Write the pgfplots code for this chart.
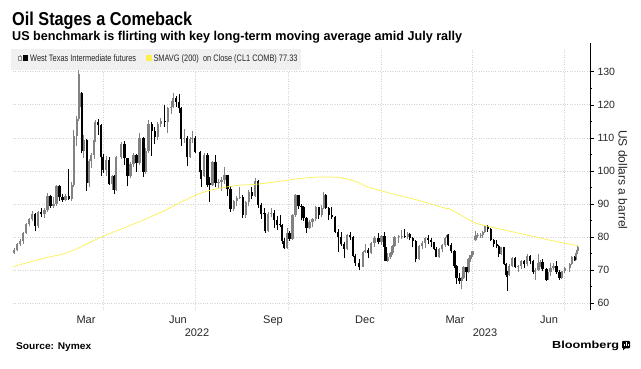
\documentclass[border=0pt]{standalone}
\usepackage{pgfplots}
\pgfplotsset{compat=1.18}
\usepackage{pgfplotstable}
\usepackage{graphicx}
\usepackage{fontspec}
\setmainfont{Liberation Sans}
\definecolor{smaYellow}{RGB}{250,240,80}
\definecolor{legBg}{RGB}{240,240,240}
\definecolor{gridGray}{RGB}{210,210,210}
\definecolor{upGray}{RGB}{130,130,130}

\pgfplotstableread{
d o h l c
1 75.2 76.5 74.8 76.1
4 76.1 78.2 75.6 77.8
7 77.8 79.5 77.2 78.9
10 78.9 81.6 78.0 81.2
13 81.2 84.3 80.8 83.8
16 83.8 85.7 83.2 85.4
19 85.4 87.9 84.8 86.9
22 86.9 87.2 81.7 83.3
25 83.3 87.9 82.8 87.4
28 87.4 88.8 85.9 86.8
31 86.8 88.9 85.7 88.2
34 88.2 93.2 87.6 92.3
37 92.3 92.6 88.8 89.4
40 89.4 92.0 88.9 89.9
43 89.9 95.8 89.5 95.5
46 95.5 95.8 91.0 92.1
49 92.1 93.0 90.5 91.1
52 91.1 93.0 90.8 92.4
55 92.4 100.5 91.2 91.6
58 91.6 96.5 91.0 95.7
60 95.7 112.5 95.2 110.6
63 110.6 116.6 107.5 115.7
65 115.7 130.5 115.0 119.4
66 119.4 129.4 117.5 123.7
68 123.7 124.0 105.3 106.0
70 106.0 110.8 104.0 109.3
73 109.3 109.7 93.9 96.4
75 96.4 103.5 95.0 103.0
77 103.0 105.3 101.0 104.7
80 104.7 112.0 103.6 109.3
81 109.3 115.4 108.8 114.9
84 114.9 115.8 111.0 113.9
87 113.9 114.2 98.4 104.2
89 104.2 105.0 99.3 100.3
92 100.3 104.5 98.4 103.3
95 103.3 104.2 95.7 96.0
98 96.0 98.7 94.2 98.3
100 98.3 98.6 92.9 94.3
102 94.3 104.6 94.0 104.3
107 104.3 108.8 103.6 108.2
110 108.2 108.9 101.7 103.8
113 103.8 104.0 95.3 98.5
116 98.5 102.6 97.8 102.0
119 102.0 105.5 101.1 104.7
122 104.7 105.2 99.8 102.4
125 102.4 111.4 101.9 109.8
129 109.8 110.2 98.2 99.8
131 99.8 107.0 99.0 106.1
134 106.1 115.5 105.5 114.2
137 114.2 114.7 104.6 112.2
140 112.2 113.4 108.0 110.3
143 110.3 114.8 109.3 114.1
146 114.1 116.0 113.2 115.1
150 115.1 119.9 113.4 114.7
153 114.7 119.4 111.4 118.9
156 118.9 121.0 117.3 119.4
158 119.4 123.7 119.0 122.1
161 122.1 122.7 119.3 120.7
164 120.7 123.2 117.6 118.9
166 118.9 119.2 107.5 109.6
169 109.6 112.6 108.5 110.0
172 110.0 110.4 101.5 104.3
175 104.3 110.3 104.0 109.6
177 109.6 112.0 108.5 109.8
180 109.8 110.6 105.3 105.8
185 105.8 106.0 97.4 99.5
186 99.5 100.2 95.1 98.5
189 98.5 105.3 98.0 104.8
192 104.8 105.5 95.1 95.8
194 96.3 98.0 90.6 95.8
197 95.8 103.0 95.3 102.6
200 102.6 104.7 95.0 96.4
203 96.4 97.5 94.4 96.7
206 96.7 98.1 93.9 97.3
209 97.3 101.2 96.0 98.6
212 98.6 98.8 92.4 94.4
215 94.4 95.3 87.6 88.5
218 88.5 91.2 87.8 90.8
221 90.8 92.3 89.5 91.9
224 91.9 95.0 91.5 92.1
227 92.1 92.7 85.7 86.5
230 86.5 91.0 85.8 90.5
233 90.5 94.3 89.4 93.7
236 93.7 95.0 91.5 92.5
239 92.5 97.7 92.0 97.0
242 97.0 97.3 88.9 89.6
245 89.6 90.4 85.5 86.9
248 87.3 88.9 86.4 86.9
249 86.9 87.2 81.2 81.9
252 81.9 87.5 81.5 86.8
255 86.8 88.7 86.0 87.3
258 87.3 88.0 82.8 85.1
261 85.1 86.4 82.1 83.5
264 83.9 86.5 82.9 83.5
266 83.5 83.8 78.0 78.7
268 78.7 79.8 76.3 76.7
271 76.7 82.6 76.4 81.2
273 81.2 81.9 78.8 79.5
276 79.5 87.0 79.0 86.5
279 86.5 93.0 86.0 92.6
282 92.6 92.8 88.4 89.4
285 89.4 89.9 85.0 89.1
287 89.1 89.4 84.8 85.6
290 85.6 86.0 81.3 82.8
293 82.8 85.2 82.5 84.5
296 84.5 85.8 83.0 85.3
299 85.3 89.5 84.9 89.1
302 89.1 89.2 85.5 86.5
305 86.5 89.7 86.0 88.9
307 88.9 93.7 88.5 92.6
309 92.6 93.0 88.5 88.9
312 88.9 89.2 85.0 86.5
315 86.5 89.2 85.3 85.9
318 85.9 86.2 81.3 81.6
321 81.6 82.3 75.3 80.0
324 80.0 81.5 77.3 77.9
327 77.9 78.6 73.6 76.3
330 76.3 81.0 76.0 80.6
333 80.6 81.5 79.2 80.0
336 80.0 80.2 73.8 74.3
338 74.3 74.7 71.2 72.0
342 72.0 73.4 70.1 71.0
346 71.0 75.8 70.8 75.4
348 75.4 77.8 75.0 76.1
351 76.1 76.5 73.6 75.2
354 75.2 78.6 74.8 78.3
357 78.3 80.4 77.0 79.6
361 79.6 81.2 77.8 78.4
364 78.4 80.5 77.7 80.3
367 80.3 81.5 76.2 76.9
368 76.9 77.4 72.6 72.8
370 72.8 75.0 72.4 73.8
373 73.8 75.5 73.2 75.1
375 75.1 77.6 74.6 77.4
377 77.4 80.2 77.0 79.9
381 79.9 80.6 78.3 80.2
384 80.2 82.0 79.4 80.3
387 80.3 82.3 79.8 80.1
390 80.1 81.5 79.5 81.0
392 81.0 81.3 79.2 79.7
395 79.7 80.0 76.8 78.9
398 78.9 79.0 72.3 73.4
401 73.4 77.6 73.0 77.1
404 77.1 78.9 76.4 78.1
407 78.1 80.0 76.7 79.7
410 79.7 80.6 77.8 79.1
413 79.1 79.6 77.0 78.5
416 78.5 78.6 75.9 76.3
418 76.3 76.8 73.8 73.9
421 73.9 76.6 73.6 76.3
424 76.3 78.0 75.5 77.7
427 77.7 80.1 77.0 79.7
429 79.7 81.0 79.0 80.5
430 80.5 80.9 77.2 77.6
433 77.6 78.2 75.1 75.7
436 75.7 76.0 70.6 71.3
438 71.3 71.6 65.7 67.6
441 67.6 69.0 65.6 66.7
443 66.7 68.0 64.1 67.6
445 67.6 71.3 67.3 70.9
448 70.9 71.0 66.8 69.3
450 69.3 73.6 69.0 73.2
452 73.2 74.6 72.5 74.4
454 74.4 75.8 74.0 75.7
457 79.0 81.8 78.9 80.4
459 80.4 81.3 79.8 80.6
462 80.6 81.2 79.6 80.7
464 80.7 81.8 79.8 81.5
466 81.5 83.6 81.1 83.3
469 83.3 83.5 81.6 82.5
472 82.5 82.7 78.8 79.2
475 79.2 79.5 76.9 77.9
478 77.9 79.1 76.6 77.1
480 77.1 77.5 73.8 74.8
482 74.8 77.0 74.5 76.8
485 76.8 77.0 71.4 71.7
487 71.7 72.1 67.8 68.6
488 69.0 69.8 63.6 68.6
490 68.6 71.8 68.3 71.3
493 71.3 74.0 70.8 73.7
496 73.7 73.9 70.6 70.9
499 70.9 71.6 69.4 71.1
502 71.1 73.1 70.4 72.8
505 72.8 73.0 70.6 71.7
508 71.7 74.7 71.3 74.3
511 74.3 74.6 71.7 72.7
514 72.7 73.0 68.8 69.5
516 69.5 70.5 67.0 70.1
519 70.1 74.7 69.8 72.2
521 72.2 73.1 70.8 72.5
523 72.5 73.2 69.6 70.2
527 70.2 70.5 66.8 67.1
528 67.1 69.6 66.9 69.4
531 69.4 72.0 68.3 70.6
534 70.6 72.2 70.0 71.2
537 71.2 72.8 68.9 69.5
540 69.5 70.0 67.1 67.7
542 67.7 69.8 67.3 69.6
545 69.6 71.0 69.0 70.6
550 70.6 72.0 69.5 71.8
552 71.8 74.1 71.4 73.9
555 73.9 74.2 72.6 73.0
556 73.0 75.0 72.8 74.8
557 74.8 76.0 74.5 75.8
558 75.8 77.3 75.5 76.9
}\wti

\pgfplotstableread{
d v
0 71.0
30 73.5
56 75.5
88 80.1
113 83.1
145 87.3
167 90.7
190 93.7
219 95.5
239 95.9
265 96.9
284 97.7
300 98.1
316 98.1
326 97.8
340 96.6
350 95.2
373 93.2
399 91.2
427 88.7
432 88.4
454 84.6
464 83.6
493 81.6
526 79.3
558 77.33
}\sma

\pgfplotsset{candle/.style={draw=none, mark=none, forget plot,
  error bars/y dir=plus, error bars/y explicit, error bars/error mark=none}}

\begin{document}
\begin{tikzpicture}
\path[use as bounding box] (0pt,0pt) rectangle (641pt,369pt);
\begin{axis}[
  at={(13pt,59.4pt)}, anchor=south west,
  width=577pt, height=261pt, scale only axis,
  xmin=0, xmax=570, ymin=58, ymax=137,
  axis line style={draw=none},
  xtick={89,180,272,364,454,545}, xticklabels={},
  x tick style={draw=none},
  ytick={60,70,...,130}, minor ytick={65,75,...,125},
  ytick pos=right, yticklabel pos=right, tick align=outside,
  major tick length=4pt, minor tick length=2.5pt,
  y tick style={black, line width=0.5pt},
  xmajorgrids, ymajorgrids,
  grid style={gridGray, dotted, line width=0.6pt},
  yticklabel style={font=\fontsize{10.5}{12}\selectfont, text=black!85},
  /pgf/number format/assume math mode=true,
  clip=false,
]
% up candles: wicks and bodies
\addplot[candle, restrict expr to domain={\thisrow{c}-\thisrow{o}}{0:100},
  error bars/error bar style={draw=upGray, line width=0.8pt}]
  table[x=d, y=l, y error expr=\thisrow{h}-\thisrow{l}] {\wti};
\addplot[candle, restrict expr to domain={\thisrow{c}-\thisrow{o}}{0:100},
  error bars/error bar style={draw=upGray, line width=2.3pt}]
  table[x=d, y=o, y error expr=\thisrow{c}-\thisrow{o}] {\wti};
% down candles
\addplot[candle, restrict expr to domain={\thisrow{c}-\thisrow{o}}{-100:-0.00001},
  error bars/error bar style={draw=black, line width=0.8pt}]
  table[x=d, y=l, y error expr=\thisrow{h}-\thisrow{l}] {\wti};
\addplot[candle, restrict expr to domain={\thisrow{c}-\thisrow{o}}{-100:-0.00001},
  error bars/error bar style={draw=black, line width=2.3pt}]
  table[x=d, y=c, y error expr=\thisrow{o}-\thisrow{c}] {\wti};
% moving average
\addplot[smaYellow, line width=0.7pt, smooth, tension=0.6, mark=none] table[x=d, y=v] {\sma};
\draw[black, line width=0.6pt] (rel axis cs:1,0) -- (rel axis cs:1,1.02);
\end{axis}

% legend
\fill[legBg] (11pt,299pt) rectangle (301pt,320pt);
\draw[black!45, line width=0.4pt] (18.6pt,309pt) rectangle (21pt,312.5pt);
\draw[black!45, line width=0.4pt] (19.8pt,307.5pt) -- (19.8pt,309pt) (19.8pt,312.5pt) -- (19.8pt,314pt);
\fill[black] (22.7pt,308pt) rectangle (28.3pt,314pt);
\node[anchor=base west, inner sep=0pt, text=black!85] at (30pt,307.7pt) {\resizebox{106pt}{6.8pt}{West Texas Intermediate futures}};
\fill[smaYellow] (145.7pt,308pt) rectangle (151.7pt,314pt);
\node[anchor=base west, inner sep=0pt, text=black!85] at (153.3pt,307.7pt) {\resizebox{144pt}{6.8pt}{SMAVG (200)\ \ on Close (CL1 COMB) 77.33}};

% titles
\node[anchor=base west, inner sep=0pt] at (12pt,343pt) {\resizebox{180pt}{13.5pt}{\bfseries Oil Stages a Comeback}};
\node[anchor=base west, inner sep=0pt] at (12pt,328.3pt) {\resizebox{450pt}{9.3pt}{\bfseries US benchmark is flirting with key long-term moving average amid July rally}};

% x labels
\begin{scope}[every node/.style={anchor=base, inner sep=0pt, font=\fontsize{11}{13}\selectfont, text=black!85}]
\node at (86pt,45pt) {Mar};
\node at (178pt,45pt) {Jun};
\node at (273pt,45pt) {Sep};
\node at (365pt,45pt) {Dec};
\node at (455pt,45pt) {Mar};
\node at (549pt,45pt) {Jun};
\node at (197pt,32pt) {2022};
\node at (485pt,32pt) {2023};
\end{scope}

% y label
\node[rotate=-90, font=\fontsize{12}{14}\selectfont, text=black!85] at (623pt,189pt) {US dollars a barrel};

% footer
\node[anchor=base west, inner sep=0pt] at (16pt,19pt) {\resizebox{75pt}{6.8pt}{\bfseries Source: Nymex}};
\node[anchor=base west, inner sep=0pt] at (552pt,20pt) {\resizebox{67pt}{7.4pt}{\bfseries Bloomberg}};
\fill[black, rounded corners=1pt] (622pt,20.5pt) rectangle (630pt,28pt);
\fill[black] (623pt,21pt) -- (623pt,18.5pt) -- (625.5pt,21pt) -- cycle;
\fill[white] (624pt,22.5pt) rectangle (624.9pt,25pt);
\fill[white] (625.8pt,22.5pt) rectangle (626.7pt,26.5pt);
\fill[white] (627.6pt,22.5pt) rectangle (628.5pt,24.5pt);
\end{tikzpicture}
\end{document}
